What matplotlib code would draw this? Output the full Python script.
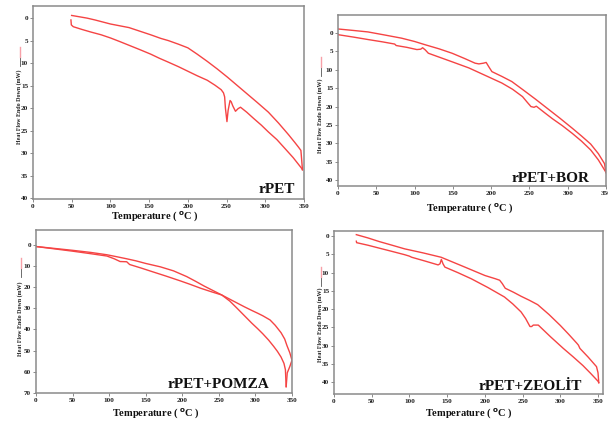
import matplotlib
matplotlib.use("Agg")
import matplotlib.pyplot as plt
from matplotlib.lines import Line2D

# DSC traces (temperature in C, heat flow in mW, endo down)
pet_heat_t = [49.9, 60, 70, 80, 90, 100, 112, 124, 138, 152, 165, 175, 188, 200, 212, 225, 238, 251,
              264, 277, 290, 304, 317, 330, 338, 343, 346, 347, 348]
pet_heat_q = [-0.6, -0.3, 0.0, 0.4, 0.85, 1.3, 1.7, 2.1, 2.9, 3.7, 4.5, 5.0, 5.8, 6.6, 8.0, 9.6, 11.3,
              13.1, 15.0, 16.9, 18.8, 20.9, 23.3, 25.9, 27.6, 28.7, 29.4, 31.5, 33.7]
pet_cool_t = [49, 49.5, 52, 63, 75, 88, 100, 112, 125, 138, 152, 163, 175, 188, 200, 212, 225, 235,
              243, 246, 247.5, 248.5, 250.5, 252, 254.5, 256, 258, 261.5, 265, 268, 276, 285, 295,
              304, 315, 325, 336, 347, 348]
pet_cool_q = [0.4, 1.5, 1.9, 2.5, 3.1, 3.7, 4.4, 5.2, 6.1, 7.0, 8.0, 8.9, 9.8, 10.8, 11.8, 12.8, 13.8,
              14.9, 15.9, 16.6, 17.5, 20.0, 23.0, 20.5, 18.3, 18.6, 19.5, 20.7, 20.1, 19.8, 20.9,
              22.3, 23.8, 25.3, 27.0, 28.9, 31.0, 33.4, 33.7]

bor_heat_t = [0, 20, 39, 60, 83, 100, 114, 132, 149, 165, 179, 184, 190, 193.5, 197, 201, 214, 227,
              242, 258, 274, 290, 306, 318, 330, 340, 348, 350]
bor_heat_q = [-1.1, -0.7, -0.3, 0.5, 1.4, 2.3, 3.2, 4.3, 5.5, 6.9, 8.2, 8.4, 8.2, 8.0, 9.2, 10.5,
              11.8, 13.2, 15.5, 18.0, 20.6, 23.2, 25.9, 28.0, 30.2, 32.8, 35.5, 38.0]
bor_cool_t = [0, 20, 40, 58, 74, 76, 90, 103, 108, 110.5, 114, 118, 134, 150, 171, 192, 214, 228,
              241, 247, 252, 256, 259, 270, 280, 293, 306, 318, 330, 340, 350]
bor_cool_q = [0.45, 1.1, 1.8, 2.4, 3.0, 3.4, 3.9, 4.5, 4.4, 4.0, 4.6, 5.5, 6.7, 7.9, 9.5, 11.5, 13.6,
              15.3, 17.3, 18.8, 20.0, 20.2, 19.9, 21.7, 23.3, 25.2, 27.3, 29.4, 31.8, 34.5, 37.9]

pomza_heat_t = [0, 25, 50, 75, 97, 110, 124, 137, 150, 170, 188, 198, 206, 218, 230, 242, 254, 265,
                275, 285, 295, 303, 310, 318, 325, 330, 335, 339, 341, 342]
pomza_heat_q = [0.8, 1.7, 2.6, 3.6, 4.7, 5.6, 6.6, 7.6, 8.8, 10.4, 12.3, 13.8, 15.0, 17.2, 19.5,
                21.6, 23.7, 26.6, 30.0, 33.5, 37.0, 39.6, 42.0, 45.0, 48.0, 50.3, 53.0, 56.0, 59.0,
                67.0]
pomza_cool_t = [0, 25, 50, 75, 97, 107, 115, 124, 128, 144, 160, 178, 197, 211, 225, 240, 254, 265,
                275, 285, 295, 303, 310, 320, 327, 335, 340, 343, 347, 350, 347, 343.5, 342]
pomza_cool_q = [0.8, 1.9, 3.0, 4.2, 5.3, 6.6, 7.9, 8.0, 9.3, 11.0, 12.8, 14.8, 17.0, 18.7, 20.5,
                22.2, 23.7, 25.7, 27.5, 29.3, 31.0, 32.3, 33.5, 35.5, 38.0, 41.5, 44.5, 47.5, 51.0,
                54.5, 57.5, 60.5, 67.0]

zeo_heat_t = [29.6, 45, 60, 77, 93.7, 118, 142, 156, 170, 185, 200, 214, 219.6, 223, 227, 238, 248,
              259, 270, 285, 300, 311, 322, 324, 326, 337, 348, 350, 351]
zeo_heat_q = [-0.4, 0.5, 1.5, 2.5, 3.5, 4.6, 5.8, 7.0, 8.2, 9.5, 10.8, 11.7, 12.1, 13.0, 14.3, 15.4,
              16.5, 17.6, 18.8, 21.5, 24.5, 26.9, 29.4, 29.9, 30.8, 33.2, 35.8, 37.5, 40.2]
zeo_cool_t = [29.6, 30, 45, 60, 77, 93.7, 100, 103, 120, 138, 140.5, 142.3, 144.5, 147, 164, 182,
              204, 226, 237, 248, 254, 259.8, 262, 264.2, 270.8, 287, 304, 317, 330, 340, 350, 351]
zeo_cool_q = [1.4, 1.8, 2.5, 3.3, 4.2, 5.1, 5.5, 5.8, 6.8, 7.9, 7.6, 6.4, 7.6, 8.5, 10.0, 11.7, 14.1,
              16.7, 18.6, 20.8, 22.6, 24.8, 24.8, 24.4, 24.4, 27.6, 30.8, 33.1, 35.5, 37.6, 39.8, 40.2]

W, H = 608, 421
SERIF = "Liberation Serif"
RED = "#f54444"


def fx(px):
    return px / W


def fy(py):
    return 1 - py / H


fig = plt.figure(figsize=(W / 100, H / 100), dpi=100)

panels = [
    dict(box=(33, 6, 304, 199), t=[pet_heat_t, pet_cool_t], q=[pet_heat_q, pet_cool_q],
         xlim=(0, 350), ylim=(40.2, -2.7), yt=range(0, 41, 5), name="rPET", npos=(0.967, 0.031),
         xl=(155, 216), yl=(19, 107), seg=47),
    dict(box=(338, 15, 606, 186), t=[bor_heat_t, bor_cool_t], q=[bor_heat_q, bor_cool_q],
         xlim=(0, 350), ylim=(41.6, -4.9), yt=range(0, 41, 5), name="rPET+BOR", npos=(0.94, 0.023),
         xl=(470, 208), yl=(320, 116), seg=57),
    dict(box=(36, 230, 292, 393), t=[pomza_heat_t, pomza_cool_t], q=[pomza_heat_q, pomza_cool_q],
         xlim=(0, 350), ylim=(70, -7), yt=range(0, 71, 10), name="rPET+POMZA", npos=(0.91, 0.03),
         xl=(156, 413), yl=(20, 319), seg=258),
    dict(box=(334, 231, 603, 394), t=[zeo_heat_t, zeo_cool_t], q=[zeo_heat_q, zeo_cool_q],
         xlim=(0, 356.6), ylim=(43.3, -1.4), yt=range(0, 41, 5), name="rPET+ZEOLİT", npos=(0.922, 0.025),
         xl=(469, 413), yl=(320, 325), seg=267),
]

for p in panels:
    l, t, r, b = p["box"]
    ax = fig.add_axes([fx(l), fy(b), (r - l) / W, (b - t) / H])
    for tt, qq in zip(p["t"], p["q"]):
        ax.plot(tt, qq, color=RED, lw=1.0, solid_joinstyle="round")
    ax.set_xlim(*p["xlim"])
    ax.set_ylim(*p["ylim"])
    ax.set_xticks(range(0, 351, 50))
    ax.set_yticks(list(p["yt"]))
    for s in ax.spines.values():
        s.set_color("#8a8a8a")
        s.set_linewidth(1.1)
    ax.tick_params(direction="out", length=2, width=0.6, color="#777777", pad=1.5,
                   labelsize=5.2, labelcolor="#222222")
    for lab in ax.get_xticklabels() + ax.get_yticklabels():
        lab.set_fontfamily(SERIF)
        lab.set_fontweight("bold")
    ax.text(p["npos"][0], p["npos"][1], p["name"], transform=ax.transAxes, ha="right",
            va="baseline", fontsize=11, fontweight="bold", family=SERIF, color="#111111")

    # axis titles
    fig.text(fx(p["xl"][0]), fy(p["xl"][1]), "Temperature ( $^{\\mathbf{o}}$C )", ha="center",
             va="center", fontsize=7.5, fontweight="bold", family=SERIF, color="#111111")
    fig.text(fx(p["yl"][0]), fy(p["yl"][1]), "Heat Flow Endo Down (mW)", rotation=90,
             ha="center", va="center", fontsize=4.3, fontweight="bold", family=SERIF,
             color="#222222")
    # little legend keys above the y label
    s0 = p["seg"]
    x0 = fx(p["yl"][0] + 1)
    fig.add_artist(Line2D([x0, x0], [fy(s0), fy(s0 + 10)], color="#f7a0a8", lw=1.0))
    fig.add_artist(Line2D([x0, x0], [fy(s0 + 11), fy(s0 + 19)], color="#555555", lw=0.6))

fig.savefig("out.png", dpi=100)
